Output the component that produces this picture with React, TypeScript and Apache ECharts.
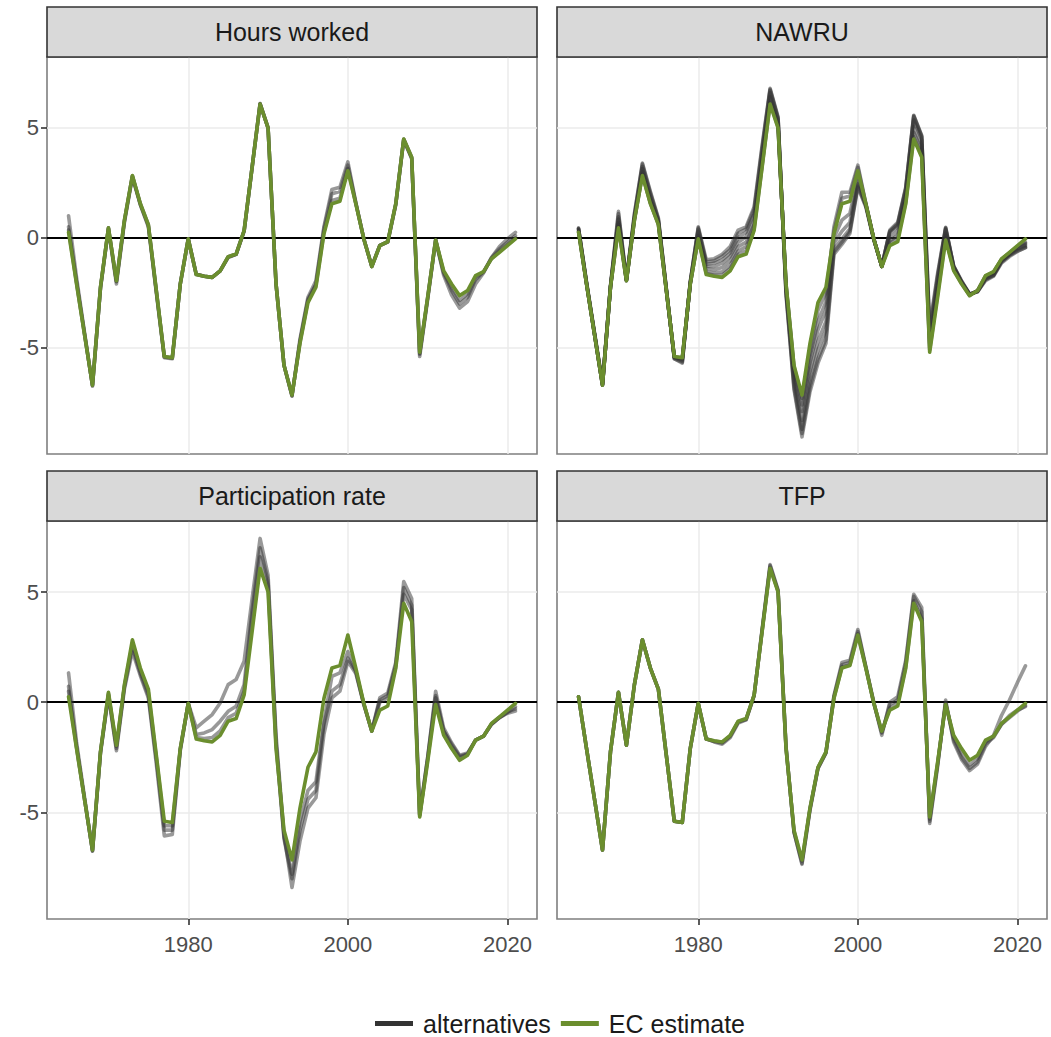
import React, { useEffect, useRef } from "react";
import * as echarts from "echarts";

const years = [
  1965, 1966, 1967, 1968, 1969, 1970, 1971, 1972, 1973, 1974,
  1975, 1976, 1977, 1978, 1979, 1980, 1981, 1982, 1983, 1984,
  1985, 1986, 1987, 1988, 1989, 1990, 1991, 1992, 1993, 1994,
  1995, 1996, 1997, 1998, 1999, 2000, 2001, 2002, 2003, 2004,
  2005, 2006, 2007, 2008, 2009, 2010, 2011, 2012, 2013, 2014,
  2015, 2016, 2017, 2018, 2019, 2020, 2021,
];

const ecEstimate = [
  0.25, -2.1, -4.4, -6.7, -2.25, 0.45, -1.95, 0.8, 2.83, 1.55,
  0.6, -2.4, -5.4, -5.45, -2.1, -0.05, -1.67, -1.75, -1.8, -1.5,
  -0.86, -0.74, 0.33, 3.2, 6.08, 5.0, -2.1, -5.8, -7.15, -4.8,
  -2.95, -2.25, 0.17, 1.55, 1.66, 3.05, 1.54, -0.05, -1.31, -0.36,
  -0.17, 1.54, 4.49, 3.66, -5.2, -2.7, -0.1, -1.49, -2.1, -2.63,
  -2.4, -1.72, -1.54, -0.96, -0.66, -0.36, -0.05,
];

// Hours worked alternatives
const hwAlt1 = [
  1.0, -1.8, -4.3, -6.75, -2.3, 0.4, -2.1, 0.7, 2.75, 1.5,
  0.5, -2.5, -5.45, -5.5, -2.1, -0.05, -1.65, -1.75, -1.8, -1.5,
  -0.9, -0.75, 0.3, 3.2, 6.1, 5.0, -2.1, -5.8, -7.2, -4.6,
  -2.7, -1.95, 0.5, 2.2, 2.3, 3.45, 1.6, -0.05, -1.3, -0.35,
  -0.2, 1.5, 4.45, 3.6, -5.4, -2.8, -0.1, -1.7, -2.6, -3.2,
  -2.9, -2.1, -1.6, -0.9, -0.4, -0.05, 0.25,
];
const hwAlt2 = [
  0.5, -2.0, -4.35, -6.7, -2.3, 0.45, -2.0, 0.75, 2.8, 1.5,
  0.55, -2.45, -5.4, -5.45, -2.1, -0.05, -1.66, -1.75, -1.8, -1.5,
  -0.88, -0.75, 0.3, 3.2, 6.1, 5.0, -2.1, -5.8, -7.18, -4.7,
  -2.8, -2.1, 0.4, 2.0, 2.1, 3.3, 1.58, -0.05, -1.3, -0.35,
  -0.18, 1.52, 4.47, 3.62, -5.3, -2.75, -0.1, -1.6, -2.4, -3.0,
  -2.7, -1.9, -1.55, -0.9, -0.5, -0.2, 0.1,
];
const hwAlt3 = [
  0.35, -2.05, -4.4, -6.7, -2.25, 0.45, -1.98, 0.8, 2.82, 1.55,
  0.6, -2.4, -5.42, -5.47, -2.1, -0.05, -1.67, -1.75, -1.8, -1.5,
  -0.86, -0.74, 0.33, 3.2, 6.08, 5.0, -2.1, -5.8, -7.15, -4.75,
  -2.85, -2.15, 0.25, 1.7, 1.8, 3.15, 1.55, -0.05, -1.31, -0.36,
  -0.17, 1.54, 4.49, 3.66, -5.25, -2.7, -0.1, -1.55, -2.25, -2.85,
  -2.55, -1.8, -1.55, -0.95, -0.6, -0.3, 0.0,
];

// NAWRU alternatives
const nawruAlt1 = [
  0.45, -2.0, -4.3, -6.6, -2.2, 1.2, -1.9, 1.1, 3.4, 2.1,
  0.9, -2.3, -5.5, -5.7, -2.0, 0.5, -1.0, -0.95, -0.75, -0.4,
  0.35, 0.5, 1.4, 4.2, 6.8, 5.5, -2.6, -6.9, -9.05, -7.0,
  -5.7, -4.8, -0.75, -0.3, 0.2, 2.3, 1.4, -0.1, -1.3, 0.35,
  0.7, 2.3, 5.57, 4.66, -4.0, -1.6, 0.48, -1.27, -1.95, -2.55,
  -2.45, -1.95, -1.75, -1.15, -0.85, -0.62, -0.45,
];
const nawruAlt2 = [
  0.4, -2.05, -4.35, -6.65, -2.2, 1.1, -1.9, 1.05, 3.35, 2.05,
  0.85, -2.3, -5.5, -5.65, -2.0, 0.45, -1.1, -1.05, -0.85, -0.55,
  0.2, 0.4, 1.3, 4.1, 6.75, 5.45, -2.5, -6.8, -8.9, -6.8,
  -5.5, -4.6, -0.65, -0.2, 0.3, 2.35, 1.45, -0.08, -1.3, 0.3,
  0.65, 2.25, 5.55, 4.62, -4.2, -1.7, 0.45, -1.3, -2.0, -2.57,
  -2.45, -1.9, -1.72, -1.1, -0.8, -0.6, -0.45,
];
const nawruAlt3 = [
  0.42, -2.05, -4.35, -6.65, -2.22, 0.95, -1.92, 0.95, 3.25, 1.95,
  0.8, -2.35, -5.45, -5.6, -2.05, 0.4, -1.2, -1.15, -1.0, -0.7,
  0.0, 0.25, 1.1, 3.95, 6.7, 5.4, -2.45, -6.6, -8.7, -6.5,
  -5.1, -4.2, -0.5, -0.05, 0.4, 2.45, 1.5, -0.07, -1.3, 0.28,
  0.6, 2.2, 5.5, 4.58, -4.4, -1.8, 0.42, -1.3, -2.0, -2.57,
  -2.43, -1.88, -1.7, -1.08, -0.78, -0.55, -0.4,
];
const nawruAlt4 = [
  0.4, -2.08, -4.38, -6.68, -2.23, 0.85, -1.93, 0.9, 3.15, 1.85,
  0.75, -2.35, -5.45, -5.55, -2.05, 0.3, -1.3, -1.3, -1.15, -0.85,
  -0.2, 0.05, 0.85, 3.7, 6.6, 5.3, -2.35, -6.4, -8.3, -6.1,
  -4.7, -3.8, -0.25, 0.3, 0.7, 2.6, 1.5, -0.06, -1.3, 0.2,
  0.5, 2.05, 5.35, 4.45, -4.6, -2.0, 0.38, -1.32, -2.02, -2.58,
  -2.42, -1.85, -1.68, -1.05, -0.75, -0.5, -0.35,
];
const nawruAlt5 = [
  0.35, -2.08, -4.4, -6.7, -2.24, 0.7, -1.94, 0.85, 3.0, 1.7,
  0.7, -2.38, -5.42, -5.5, -2.08, 0.1, -1.4, -1.45, -1.35, -1.05,
  -0.4, -0.2, 0.6, 3.5, 6.4, 5.15, -2.2, -6.1, -7.9, -5.7,
  -4.2, -3.3, 0.0, 0.8, 1.1, 2.8, 1.52, -0.06, -1.3, 0.0,
  0.3, 1.85, 5.05, 4.2, -4.8, -2.2, 0.2, -1.35, -2.03, -2.58,
  -2.42, -1.8, -1.62, -1.02, -0.72, -0.45, -0.3,
];
const nawruAlt6 = [
  0.3, -2.1, -4.4, -6.7, -2.25, 0.6, -1.95, 0.82, 2.9, 1.6,
  0.65, -2.4, -5.42, -5.47, -2.1, 0.0, -1.55, -1.6, -1.55, -1.25,
  -0.6, -0.4, 0.5, 3.35, 6.2, 5.08, -2.15, -5.95, -7.6, -5.4,
  -3.8, -2.9, 0.5, 2.07, 2.07, 3.3, 1.55, -0.05, -1.3, -0.15,
  0.1, 1.7, 4.8, 4.0, -5.0, -2.4, 0.1, -1.4, -2.05, -2.6,
  -2.4, -1.75, -1.58, -0.98, -0.7, -0.4, -0.25,
];
const nawruAlt7 = [
  0.28, -2.1, -4.4, -6.7, -2.25, 0.5, -1.95, 0.8, 2.85, 1.57,
  0.62, -2.4, -5.41, -5.46, -2.1, -0.03, -1.62, -1.7, -1.7, -1.4,
  -0.75, -0.6, 0.4, 3.25, 6.12, 5.03, -2.12, -5.85, -7.3, -5.1,
  -3.3, -2.5, 0.3, 1.8, 1.9, 3.2, 1.55, -0.05, -1.31, -0.25,
  0.0, 1.6, 4.6, 3.8, -5.1, -2.55, 0.0, -1.45, -2.08, -2.62,
  -2.4, -1.73, -1.56, -0.97, -0.68, -0.38, -0.2,
];

// Participation rate alternatives
const prAlt1 = [
  1.33, -1.8, -4.3, -6.75, -2.3, 0.3, -2.2, 0.6, 2.3, 1.2,
  0.2, -2.8, -6.06, -6.0, -2.2, -0.05, -1.16, -0.86, -0.56, -0.03,
  0.8, 1.03, 1.86, 4.7, 7.43, 5.77, -1.5, -6.0, -8.4, -6.3,
  -4.8, -4.33, -1.46, 0.2, 0.5, 1.86, 1.3, -0.1, -1.3, 0.2,
  0.42, 1.8, 5.47, 4.7, -5.1, -2.5, 0.5, -1.16, -1.84, -2.4,
  -2.3, -1.72, -1.54, -1.0, -0.7, -0.45, -0.2,
];
const prAlt2 = [
  0.72, -2.0, -4.4, -6.75, -2.3, 0.35, -2.1, 0.7, 2.5, 1.3,
  0.3, -2.6, -5.8, -5.8, -2.15, -0.05, -1.46, -1.39, -1.24, -0.86,
  -0.41, -0.18, 0.8, 4.2, 7.0, 5.5, -1.8, -6.1, -7.8, -5.4,
  -4.0, -3.6, -0.86, 1.17, 1.33, 2.3, 1.4, -0.1, -1.3, 0.1,
  0.3, 1.7, 4.9, 4.2, -5.1, -2.5, 0.3, -1.3, -2.0, -2.5,
  -2.35, -1.72, -1.54, -1.0, -0.7, -0.5, -0.4,
];
const prAlt3 = [
  0.5, -2.05, -4.4, -6.7, -2.25, 0.4, -2.0, 0.75, 2.65, 1.4,
  0.45, -2.5, -5.6, -5.6, -2.1, -0.05, -1.6, -1.65, -1.6, -1.3,
  -0.7, -0.5, 0.5, 3.8, 6.6, 5.3, -1.9, -6.2, -8.0, -5.8,
  -4.4, -4.0, -1.0, 0.5, 0.8, 2.0, 1.4, -0.07, -1.31, 0.0,
  0.2, 1.6, 5.2, 4.4, -5.15, -2.6, 0.2, -1.3, -1.9, -2.45,
  -2.35, -1.72, -1.54, -0.98, -0.68, -0.45, -0.3,
];

// TFP alternatives
const tfpAlt1 = [
  0.25, -2.1, -4.4, -6.7, -2.25, 0.45, -1.95, 0.8, 2.83, 1.55,
  0.6, -2.4, -5.4, -5.45, -2.1, -0.05, -1.67, -1.78, -1.85, -1.55,
  -0.9, -0.78, 0.3, 3.3, 6.25, 5.1, -2.0, -5.9, -7.35, -4.9,
  -3.0, -2.3, 0.3, 1.8, 1.9, 3.3, 1.6, 0.0, -1.5, 0.0,
  0.25, 1.9, 4.9, 4.3, -5.5, -2.9, 0.1, -1.8, -2.6, -3.1,
  -2.8, -2.0, -1.5, -0.6, 0.1, 0.9, 1.65,
];
const tfpAlt2 = [
  0.25, -2.1, -4.4, -6.7, -2.25, 0.45, -1.95, 0.8, 2.83, 1.55,
  0.6, -2.4, -5.4, -5.45, -2.1, -0.05, -1.65, -1.8, -1.9, -1.6,
  -0.95, -0.8, 0.3, 3.25, 6.2, 5.05, -2.05, -5.9, -7.3, -4.85,
  -3.0, -2.3, 0.25, 1.7, 1.8, 3.2, 1.6, -0.05, -1.4, -0.1,
  0.1, 1.8, 4.8, 4.1, -5.4, -2.8, 0.0, -1.7, -2.5, -3.0,
  -2.7, -1.9, -1.6, -1.0, -0.6, -0.35, -0.2,
];
const tfpAlt3 = [
  0.25, -2.1, -4.4, -6.7, -2.25, 0.45, -1.95, 0.8, 2.83, 1.55,
  0.6, -2.4, -5.4, -5.45, -2.1, -0.05, -1.67, -1.76, -1.82, -1.52,
  -0.88, -0.76, 0.32, 3.22, 6.12, 5.02, -2.08, -5.85, -7.2, -4.82,
  -2.97, -2.27, 0.2, 1.6, 1.7, 3.1, 1.56, -0.05, -1.35, -0.25,
  -0.05, 1.6, 4.6, 3.8, -5.3, -2.75, -0.05, -1.6, -2.3, -2.85,
  -2.55, -1.8, -1.55, -1.0, -0.7, -0.4, -0.15,
];

const panelTitles = ["Hours worked", "NAWRU", "Participation rate", "TFP"];
const panelAlternatives = [
  [hwAlt1, hwAlt2, hwAlt3],
  [nawruAlt1, nawruAlt2, nawruAlt3, nawruAlt4, nawruAlt5, nawruAlt6, nawruAlt7],
  [prAlt1, prAlt2, prAlt3],
  [tfpAlt1, tfpAlt2, tfpAlt3],
];
const xTicks = [1980, 2000, 2020];
const yTicks = [-5, 0, 5];

const FONT = '"Liberation Sans", Arial, Helvetica, sans-serif';
const GREEN = "#6B8E2E";
const ALT = "rgba(51,51,51,0.5)";
const LINE_W = 3.6;

// layout: [left, top, width, height]
const gridBoxes = [
  [47, 57, 490, 397],
  [557, 57, 490, 397],
  [47, 521, 490, 398],
  [557, 521, 490, 398],
];
const STRIP_H = 50;

export default function App() {
  const ref = useRef<HTMLDivElement>(null);

  useEffect(() => {
    if (!ref.current) return;
    const chart = echarts.init(ref.current, undefined, { renderer: "svg" });

    const grids = gridBoxes.map(([l, t, w, h]) => ({
      left: l,
      top: t,
      width: w,
      height: h,
      show: true,
      borderColor: "#7F7F7F",
      borderWidth: 1.6,
      backgroundColor: "#FFFFFF",
      containLabel: false,
    }));

    const xAxes = gridBoxes.map((_, i) => {
      const bottom = i >= 2;
      return {
        type: "value",
        gridIndex: i,
        min: 1962.3,
        max: 2023.7,
        axisLine: { show: false, onZero: false },
        axisTick: {
          show: bottom,
          customValues: xTicks,
          length: 6,
          lineStyle: { color: "#333333", width: 1.6 },
        },
        axisLabel: {
          show: bottom,
          customValues: xTicks,
          margin: 14,
          color: "#4D4D4D",
          fontSize: 22,
          fontFamily: FONT,
          formatter: (v: number) => String(Math.round(v)),
        },
        splitLine: { show: true, lineStyle: { color: "#EBEBEB", width: 1.5 } },
      };
    });

    const yAxes = gridBoxes.map((_, i) => {
      const left = i % 2 === 0;
      return {
        type: "value",
        gridIndex: i,
        min: -9.83,
        max: 8.22,
        axisLine: { show: false, onZero: false },
        axisTick: {
          show: left,
          customValues: yTicks,
          length: 6,
          lineStyle: { color: "#333333", width: 1.6 },
        },
        axisLabel: {
          show: left,
          customValues: yTicks,
          margin: 8,
          color: "#4D4D4D",
          fontSize: 22,
          fontFamily: FONT,
          formatter: (v: number) => (v < 0 ? "-" + Math.abs(v) : String(v)),
        },
        splitLine: { show: true, lineStyle: { color: "#EBEBEB", width: 1.5 } },
      };
    });

    const series: any[] = [];
    panelAlternatives.forEach((alts, i) => {
      alts.forEach((alt, k) => {
        series.push({
          type: "line",
          name: "alternatives",
          xAxisIndex: i,
          yAxisIndex: i,
          data: years.map((y, j) => [y, alt[j]]),
          showSymbol: false,
          symbol: "none",
          silent: true,
          z: 3,
          lineStyle: { color: ALT, width: LINE_W, join: "round", cap: "round" },
          itemStyle: { color: "#333333" },
          markLine:
            k === 0
              ? {
                  silent: true,
                  symbol: "none",
                  z: 2,
                  label: { show: false },
                  lineStyle: { color: "#000000", width: 1.8, type: "solid" },
                  data: [{ yAxis: 0 }],
                }
              : undefined,
        });
      });
      series.push({
        type: "line",
        name: "EC estimate",
        xAxisIndex: i,
        yAxisIndex: i,
        data: years.map((y, j) => [y, ecEstimate[j]]),
        showSymbol: false,
        symbol: "none",
        silent: true,
        z: 4,
        lineStyle: { color: GREEN, width: LINE_W, join: "round", cap: "round" },
        itemStyle: { color: GREEN },
      });
    });

    const graphics: any[] = [];
    gridBoxes.forEach(([l, t, w], i) => {
      graphics.push({
        type: "rect",
        shape: { x: l, y: t - STRIP_H, width: w, height: STRIP_H },
        style: { fill: "#D9D9D9", stroke: "#333333", lineWidth: 1.6 },
        z: 10,
      });
      graphics.push({
        type: "text",
        x: l + w / 2,
        y: t - STRIP_H / 2,
        style: {
          text: panelTitles[i],
          fill: "#1A1A1A",
          fontSize: 25,
          fontFamily: FONT,
          textAlign: "center",
          textVerticalAlign: "middle",
        },
        z: 11,
      });
    });

    chart.setOption({
      animation: false,
      backgroundColor: "#FFFFFF",
      grid: grids,
      xAxis: xAxes,
      yAxis: yAxes,
      series,
      graphic: graphics,
      legend: {
        show: true,
        left: 370,
        top: 1006,
        itemWidth: 38,
        itemHeight: 5,
        itemGap: 10,
        selectedMode: false,
        textStyle: {
          color: "#1A1A1A",
          fontSize: 25,
          fontFamily: FONT,
          padding: [0, 0, 0, 5],
        },
        data: [
          { name: "alternatives", icon: "rect", itemStyle: { color: "#333333" } },
          { name: "EC estimate", icon: "rect", itemStyle: { color: GREEN } },
        ],
      },
    });

    return () => chart.dispose();
  }, []);

  return (
    <div
      ref={ref}
      style={{ position: "absolute", left: 0, top: 0, width: 1051, height: 1037 }}
    />
  );
}
